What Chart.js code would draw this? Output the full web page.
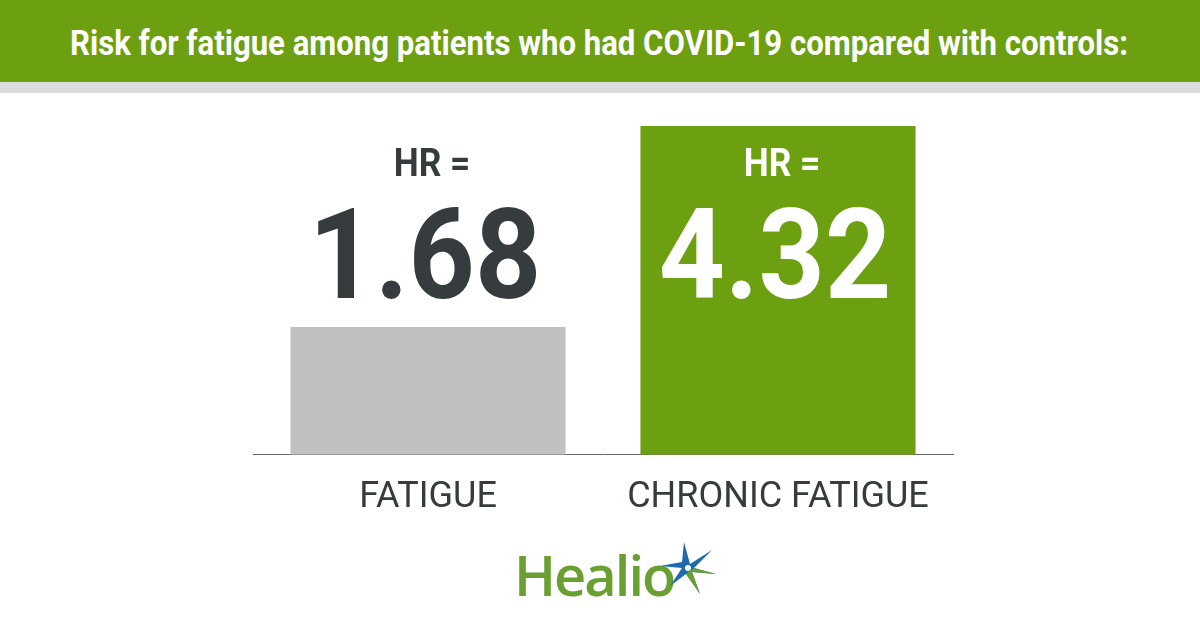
<!DOCTYPE html>
<html>
<head>
<meta charset="utf-8">
<script src="https://cdn.jsdelivr.net/npm/chart.js@4"></script>
<style>
    html, body { margin: 0; padding: 0; background: #fff; }
    #wrap { position: relative; width: 1200px; height: 630px; overflow: hidden; }
    #header { position: absolute; left: 0; top: 0; width: 1200px; height: 82px; background: #6ca010; }
    #header-shadow { position: absolute; left: 0; top: 82px; width: 1200px; height: 11px; background: #dcdcdc; }
    #title { position: absolute; left: 70px; top: 24px; white-space: nowrap; color: #fff;
        font-family: Roboto, sans-serif; font-weight: 700; font-size: 35px; line-height: 40px;
        transform-origin: left top; }
    #chart { position: absolute; left: 0; top: 0; }
    #logo { position: absolute; left: 514px; top: 538px; width: 210px; height: 70px; }
    #logo-text { position: absolute; left: 0; top: 4px; color: #6aa032;
        font-family: "Open Sans", sans-serif; font-weight: 600; font-size: 56px; line-height: 64px; letter-spacing: -2px; }
</style>
</head>
<body>
<div id="wrap">
    <canvas id="chart" width="1200" height="630"></canvas>
    <div id="header"></div>
    <div id="header-shadow"></div>
    <div id="title">Risk for fatigue among patients who had COVID-19 compared with controls:</div>
    <div id="logo">
        <div id="logo-text">Healio</div>
        <svg style="position:absolute;left:138px;top:0" width="70" height="62" viewBox="0 0 66 62">
            <polygon points="30,4 36,26 58,12 40,30 62,36 38,34 46,56 32,36 16,48 28,30 6,28 28,24" fill="#1f6aae"/>
            <polygon points="40,30 62,36 38,34 46,56 32,36" fill="#6aa032"/>
            <circle cx="34" cy="30" r="3" fill="#fff"/>
        </svg>
    </div>
</div>
<script>
const categories = ["FATIGUE", "CHRONIC FATIGUE"];
const hrValues = [1.68, 4.32];
const barColors = ["#c0c0c0", "#6ca010"];
const valueColors = ["#363b3d", "#ffffff"];

// squeeze the title so it looks like the condensed face
const title = document.getElementById("title");
const titleWidth = title.getBoundingClientRect().width;
title.style.transform = `scaleX(${1058 / titleWidth})`;

function drawSqueezed(ctx, text, x, y, squeeze) {
    ctx.save();
    ctx.translate(x, y);
    ctx.scale(squeeze, 1);
    ctx.fillText(text, 0, 0);
    ctx.restore();
}

const hrLabels = {
    id: "hrLabels",
    afterDatasetsDraw(chart) {
        const ctx = chart.ctx;
        const top = chart.chartArea.top;
        chart.getDatasetMeta(0).data.forEach((bar, i) => {
            ctx.save();
            ctx.fillStyle = valueColors[i];
            ctx.textAlign = "center";
            ctx.textBaseline = "alphabetic";
            ctx.font = "700 38px Roboto";
            drawSqueezed(ctx, "HR =", bar.x + 4, top + 50, 0.93);
            ctx.font = "700 127px Roboto";
            drawSqueezed(ctx, hrValues[i].toFixed(2), bar.x - 3, top + 172, 0.91);
            ctx.restore();
        });
    }
};

new Chart(document.getElementById("chart"), {
    type: "bar",
    data: {
        labels: categories,
        datasets: [{
            data: hrValues,
            backgroundColor: barColors,
            barPercentage: 0.786,
            categoryPercentage: 1
        }]
    },
    options: {
        responsive: false,
        animation: false,
        layout: { padding: { left: 253, right: 247, top: 126, bottom: 96 } },
        plugins: { legend: { display: false }, tooltip: { enabled: false } },
        scales: {
            x: {
                grid: { display: false },
                border: { color: "#666", width: 1 },
                ticks: { color: "#363b3d", font: { family: "Roboto", size: 36 }, padding: 14 }
            },
            y: { display: false, min: 0, max: 4.32 }
        }
    },
    plugins: [hrLabels]
});
</script>
</body>
</html>
